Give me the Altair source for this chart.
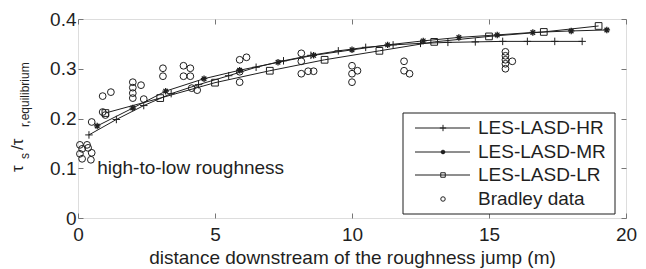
import altair as alt
import pandas as pd

# ---------------- data ----------------
x_ticks = [0, 5, 10, 15, 20]
y_ticks = [0, 0.1, 0.2, 0.3, 0.4]

hr_x = [0.4, 1.4, 2.4, 3.4, 4.4, 5.5, 6.5, 7.5, 8.5, 9.5, 10.5, 11.5, 12.5, 13.5, 14.5, 15.5, 16.4, 17.4, 18.4]
hr_y = [0.167, 0.198, 0.226, 0.250, 0.268, 0.286, 0.303, 0.316, 0.327, 0.336, 0.343, 0.348, 0.351, 0.353, 0.354, 0.355, 0.355, 0.355, 0.355]

mr_x = [0.7, 2.0, 3.2, 4.6, 5.9, 7.3, 8.6, 10.0, 11.3, 12.6, 13.9, 15.3, 16.6, 18.0, 19.3]
mr_y = [0.185, 0.221, 0.255, 0.280, 0.297, 0.313, 0.327, 0.338, 0.348, 0.356, 0.363, 0.368, 0.373, 0.376, 0.378]

lr_x = [1, 3, 5, 7, 9, 11, 13, 15, 17, 19]
lr_y = [0.211, 0.241, 0.272, 0.296, 0.318, 0.336, 0.354, 0.365, 0.374, 0.386]

brad_x = [0.07, 0.33, 0.15, 0.37, 0.07, 0.5, 0.15, 0.47,
          0.5, 0.9, 1.2, 0.9, 1.0,
          2.0, 2.0, 2.3, 2.0, 2.0, 2.4,
          3.1, 3.1,
          3.85, 4.1, 3.85, 4.1, 4.15, 4.35,
          5.9, 6.15, 5.9, 5.9,
          8.15, 8.15, 8.15, 8.4, 8.6,
          10.0, 10.2, 10.0, 10.0,
          11.9, 11.9, 12.1,
          15.6, 15.6, 15.6, 15.6, 15.6, 15.85]
brad_y = [0.147, 0.147, 0.139, 0.141, 0.129, 0.131, 0.119, 0.117,
          0.193, 0.245, 0.253, 0.213, 0.207,
          0.273, 0.262, 0.267, 0.251, 0.241, 0.239,
          0.301, 0.285,
          0.306, 0.301, 0.285, 0.285, 0.261, 0.257,
          0.318, 0.323, 0.294, 0.273,
          0.331, 0.315, 0.290, 0.295, 0.295,
          0.306, 0.296, 0.290, 0.273,
          0.315, 0.296, 0.290,
          0.334, 0.326, 0.318, 0.310, 0.300, 0.315]

series_names = ["LES-LASD-HR", "LES-LASD-MR", "LES-LASD-LR", "Bradley data"]
annotation = "high-to-low roughness"
annotation_x = [0.7]
annotation_y = [0.1]
x_title = "distance downstream of the roughness jump (m)"

# ---------------- style ----------------
W, H = 548, 199
INK = "#1f1f1f"
FRAME = "#767676"
FONT = "Liberation Sans"
FS = 19

PLUS = "M-1,0L1,0M0,-1L0,1"
STAR = "M-1,0L1,0M0,-1L0,1M-0.7,-0.7L0.7,0.7M-0.7,0.7L0.7,-0.7"

xs = alt.Scale(domain=[0, 20], nice=False, zero=False)
ys = alt.Scale(domain=[0, 0.4], nice=False, zero=False)

one = pd.DataFrame({"a": [0]})


def series(xv, yv, shape, size, sw, line=True):
    df = pd.DataFrame({"x": xv, "y": yv})
    base = alt.Chart(df).encode(
        x=alt.X("x:Q", scale=xs, axis=None),
        y=alt.Y("y:Q", scale=ys, axis=None),
    )
    out = []
    if line:
        out.append(base.mark_line(color=INK, strokeWidth=1, clip=True))
    out.append(base.mark_point(shape=shape, size=size, filled=False, color=INK,
                               strokeWidth=sw, opacity=1))
    return out


# axes (inward ticks via negative offset)
tick_df = pd.DataFrame({"x": x_ticks, "y": y_ticks})
axes_main = alt.Chart(tick_df).mark_point(opacity=0).encode(
    x=alt.X("x:Q", scale=xs, title=x_title,
            axis=alt.Axis(orient="bottom", values=x_ticks, format="~g", offset=-5,
                          tickSize=5, domain=False, grid=False, tickColor=FRAME,
                          labelFlush=False, labelOverlap=False,
                          labelPadding=7, labelFontSize=FS, labelFont=FONT, labelColor=INK,
                          titleFont=FONT, titleFontSize=FS, titleFontWeight="normal",
                          titleColor=INK, titlePadding=4)),
    y=alt.Y("y:Q", scale=ys, title=None,
            axis=alt.Axis(orient="left", values=y_ticks, format="~g", offset=-5,
                          tickSize=5, domain=False, grid=False, tickColor=FRAME,
                          labelFlush=False, labelOverlap=False,
                          labelPadding=2, labelFontSize=FS, labelFont=FONT, labelColor=INK)),
)
axes_opp = alt.Chart(tick_df).mark_point(opacity=0).encode(
    x=alt.X("x:Q", scale=xs, title=None,
            axis=alt.Axis(orient="top", values=x_ticks, offset=-5, tickSize=5,
                          domain=False, grid=False, labels=False, tickColor=FRAME)),
    y=alt.Y("y:Q", scale=ys, title=None,
            axis=alt.Axis(orient="right", values=y_ticks, offset=-5, tickSize=5,
                          domain=False, grid=False, labels=False, tickColor=FRAME)),
)

layers = [axes_main, axes_opp]
layers += series(hr_x, hr_y, PLUS, 56, 1)
layers += series(mr_x, mr_y, STAR, 42, 1.3)
layers += series(lr_x, lr_y, "square", 45, 1)
layers += series(brad_x, brad_y, "circle", 46, 1, line=False)

# annotation
ann_df = pd.DataFrame({"x": annotation_x, "y": annotation_y, "t": [annotation]})
layers.append(alt.Chart(ann_df).mark_text(align="left", baseline="middle", font=FONT,
                                          fontSize=FS, color=INK).encode(
    x=alt.X("x:Q", scale=xs, axis=None), y=alt.Y("y:Q", scale=ys, axis=None),
    text="t:N"))

# legend (manual, MATLAB style box)
LX0, LX1, LY0, LY1 = 325, 537, 94, 195
layers.append(alt.Chart(one).mark_rect(fill="white", stroke=INK, strokeWidth=1).encode(
    x=alt.value(LX0), x2=alt.value(LX1), y=alt.value(LY0), y2=alt.value(LY1)))
row_y = [109, 133, 156, 180]
leg_shapes = [(PLUS, 40, 1), (STAR, 20, 1.3), ("square", 20, 1), ("circle", 20, 1)]
for i, name in enumerate(series_names):
    yy = row_y[i]
    if i < 3:
        layers.append(alt.Chart(one).mark_rule(color=INK, strokeWidth=1).encode(
            x=alt.value(337), x2=alt.value(392), y=alt.value(yy)))
    shp, sz, sw = leg_shapes[i]
    layers.append(alt.Chart(one).mark_point(shape=shp, size=sz, filled=False, color=INK,
                                            strokeWidth=sw, opacity=1).encode(
        x=alt.value(365), y=alt.value(yy)))
    layers.append(alt.Chart(one).mark_text(align="left", baseline="middle", font=FONT,
                                           fontSize=FS, color=INK).encode(
        x=alt.value(400), y=alt.value(yy), text=alt.value(name)))

# y-axis title: tau_s / tau_{r,equilibrium}
ytitle_parts = [("τ", -55, 153, 17), ("s", -49, 140, 12), ("/τ", -55, 131, 17),
                ("r,equilibrium", -49, 108, 12)]
for txt, xx, yy, fs in ytitle_parts:
    layers.append(alt.Chart(one).mark_text(align="left", baseline="alphabetic", angle=270,
                                           font=FONT, fontSize=fs, color=INK).encode(
        x=alt.value(xx), y=alt.value(yy), text=alt.value(txt)))

chart = alt.layer(*layers).resolve_axis(x="independent", y="independent").properties(
    width=W, height=H,
    autosize=alt.AutoSizeParams(type="none"),
    padding={"left": 70, "top": 11, "right": 12, "bottom": 50},
).configure_view(stroke=FRAME, strokeWidth=1.5).configure(background="white")

chart.save("out.html", embed_options={"renderer": "svg", "actions": False})
